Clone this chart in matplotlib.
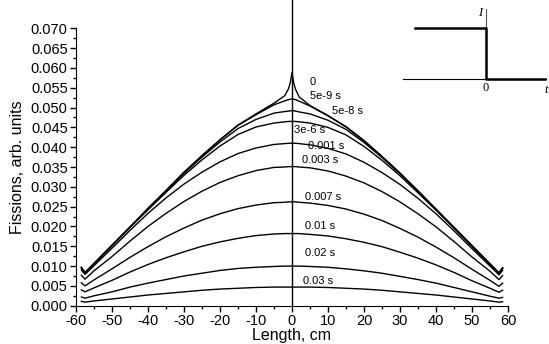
import matplotlib
matplotlib.use('Agg')
import matplotlib.pyplot as plt
from matplotlib.ticker import MultipleLocator

plt.rcParams['font.family'] = ['Liberation Sans', 'DejaVu Sans']
plt.rcParams['axes.unicode_minus'] = False

# positions along the rod, cm
length = [-58.5, -57.5, -55, -50, -45, -40, -35, -30, -25, -20, -15, -10, -5, -2, -1, -0.5, 0,
          0.5, 1, 2, 5, 10, 15, 20, 25, 30, 35, 40, 45, 50, 55, 57.5, 58.5]

# fission profiles, one per time
fis_0 = [0.0097, 0.0084, 0.0107, 0.0153, 0.0199, 0.0246, 0.0291, 0.0337, 0.0379, 0.0419, 0.0456, 0.0484, 0.0511, 0.0530, 0.0547, 0.0562, 0.0588,
         0.0561, 0.0546, 0.0527, 0.0505, 0.0480, 0.0452, 0.0417, 0.0377, 0.0335, 0.0290, 0.0244, 0.0198, 0.0152, 0.0106, 0.0083, 0.0096]
fis_5e9 = [0.0096, 0.0083, 0.0106, 0.0152, 0.0198, 0.0245, 0.0290, 0.0336, 0.0378, 0.0418, 0.0455, 0.0482, 0.0507, 0.0517, 0.0520, 0.0521, 0.0522,
           0.0521, 0.0520, 0.0516, 0.0504, 0.0479, 0.0451, 0.0416, 0.0376, 0.0334, 0.0289, 0.0243, 0.0197, 0.0151, 0.0105, 0.0082, 0.0095]
fis_5e8 = [0.0096, 0.0083, 0.0106, 0.0152, 0.0198, 0.0244, 0.0289, 0.0334, 0.0375, 0.0413, 0.0447, 0.0470, 0.0486, 0.0490, 0.0491, 0.0492, 0.0492,
           0.0492, 0.0491, 0.0489, 0.0484, 0.0468, 0.0445, 0.0412, 0.0374, 0.0333, 0.0288, 0.0243, 0.0197, 0.0151, 0.0105, 0.0082, 0.0095]
fis_3e6 = [0.0095, 0.0082, 0.0105, 0.0151, 0.0197, 0.0242, 0.0286, 0.0329, 0.0368, 0.0403, 0.0432, 0.0451, 0.0461, 0.0464, 0.0465, 0.0465, 0.0465,
           0.0465, 0.0465, 0.0464, 0.0461, 0.0450, 0.0431, 0.0402, 0.0367, 0.0328, 0.0285, 0.0241, 0.0196, 0.0150, 0.0104, 0.0081, 0.0094]
fis_1e3 = [0.0090, 0.0079, 0.0101, 0.0145, 0.0190, 0.0233, 0.0272, 0.0307, 0.0337, 0.0363, 0.0384, 0.0398, 0.0407, 0.0409, 0.0410, 0.0410, 0.0410,
           0.0410, 0.0410, 0.0409, 0.0406, 0.0397, 0.0383, 0.0362, 0.0336, 0.0306, 0.0271, 0.0232, 0.0189, 0.0144, 0.0100, 0.0078, 0.0089]
fis_3e3 = [0.0077, 0.0067, 0.0088, 0.0124, 0.0163, 0.0200, 0.0233, 0.0263, 0.0289, 0.0311, 0.0328, 0.0341, 0.0349, 0.0350, 0.0351, 0.0351, 0.0351,
           0.0351, 0.0351, 0.0350, 0.0348, 0.0340, 0.0327, 0.0310, 0.0288, 0.0262, 0.0232, 0.0199, 0.0162, 0.0123, 0.0087, 0.0066, 0.0076]
fis_7e3 = [0.0058, 0.0050, 0.0065, 0.0093, 0.0122, 0.0149, 0.0174, 0.0196, 0.0216, 0.0232, 0.0245, 0.0254, 0.0260, 0.0261, 0.0262, 0.0262, 0.0262,
           0.0262, 0.0262, 0.0261, 0.0259, 0.0253, 0.0244, 0.0231, 0.0215, 0.0195, 0.0173, 0.0148, 0.0121, 0.0092, 0.0064, 0.0049, 0.0057]
fis_1e2 = [0.0040, 0.0035, 0.0045, 0.0064, 0.0085, 0.0104, 0.0121, 0.0136, 0.0150, 0.0161, 0.0170, 0.0177, 0.0181, 0.0182, 0.0182, 0.0182, 0.0182,
           0.0182, 0.0182, 0.0182, 0.0180, 0.0176, 0.0169, 0.0160, 0.0149, 0.0135, 0.0120, 0.0103, 0.0084, 0.0063, 0.0044, 0.0034, 0.0039]
fis_2e2 = [0.0022, 0.0019, 0.0025, 0.0035, 0.0047, 0.0057, 0.0066, 0.0075, 0.0082, 0.0089, 0.0094, 0.0097, 0.0099, 0.0100, 0.0100, 0.0100, 0.0100,
           0.0100, 0.0100, 0.0100, 0.0099, 0.0097, 0.0093, 0.0088, 0.0082, 0.0074, 0.0066, 0.0057, 0.0046, 0.0035, 0.0024, 0.0019, 0.0021]
fis_3e2 = [0.0011, 0.0009, 0.0012, 0.0017, 0.0022, 0.0027, 0.0031, 0.0035, 0.0039, 0.0042, 0.0044, 0.0046, 0.0047, 0.0047, 0.0047, 0.0047, 0.0047,
           0.0047, 0.0047, 0.0047, 0.0047, 0.0046, 0.0044, 0.0042, 0.0039, 0.0035, 0.0031, 0.0027, 0.0022, 0.0017, 0.0012, 0.0009, 0.0010]

curves = [fis_0, fis_5e9, fis_5e8, fis_3e6, fis_1e3, fis_3e3, fis_7e3, fis_1e2, fis_2e2, fis_3e2]
labels = ['0', '5e-9 s', '5e-8 s', '3e-6 s', '0.001 s', '0.003 s', '0.007 s', '0.01 s', '0.02 s', '0.03 s']
label_x = [5.0, 5.0, 11.2, 0.6, 4.5, 2.9, 3.6, 3.6, 3.6, 3.1]
label_y = [0.0565, 0.0529, 0.0492, 0.0443, 0.0403, 0.0368, 0.0274, 0.0202, 0.0132, 0.0062]

# inset: current step
step_t = [-1, 0, 0, 0.83]
step_i = [1, 1, 0, 0]

fig = plt.figure(figsize=(5.49, 3.44), dpi=100)
ax = fig.add_axes([0.1384, 0.1113, 0.7869, 0.8064])

for c in curves:
    ax.plot(length, c, color='black', lw=1.0)

for lab, lx, ly in zip(labels, label_x, label_y):
    ax.text(lx, ly, lab, fontsize=8, ha='left', va='center')

ax.axvline(0, ymin=0, ymax=1.11, color='black', lw=1.0, clip_on=False)

ax.set_xlim(-60, 60)
ax.set_ylim(0, 0.070)
ax.xaxis.set_major_locator(MultipleLocator(10))
ax.xaxis.set_minor_locator(MultipleLocator(5))
ax.yaxis.set_major_locator(MultipleLocator(0.005))
ax.yaxis.set_minor_locator(MultipleLocator(0.0025))
ax.yaxis.set_major_formatter(matplotlib.ticker.FormatStrFormatter('%.3f'))
ax.tick_params(which='major', direction='out', length=4, width=1, labelsize=10.5, pad=2)
ax.tick_params(which='minor', direction='out', length=2, width=1)
ax.spines['top'].set_visible(False)
ax.spines['right'].set_visible(False)
ax.set_xlabel('Length, cm', fontsize=11.5, labelpad=0)
ax.set_ylabel('Fissions, arb. units', fontsize=11.5, labelpad=4)

# the little step-function sketch in the corner
ins = fig.add_axes([400 / 549, 1 - 100 / 344, 149 / 549, 100 / 344])
ins.set_xlim(-1.211, 0.887)
ins.set_ylim(-0.409, 1.54)
ins.axis('off')
ins.plot([-1.17, 0.85], [0, 0], color='black', lw=0.8)
ins.plot([0, 0], [0, 1.36], color='#555555', lw=0.8)
ins.plot(step_t, step_i, color='black', lw=1.8)
ins.text(-0.06, 1.28, 'I', family='Liberation Serif', style='italic', fontsize=9, ha='right', va='center')
ins.text(0, -0.18, '0', family='Liberation Serif', fontsize=9, ha='center', va='center')
ins.text(0.83, -0.22, 't', family='Liberation Serif', style='italic', fontsize=9, ha='left', va='center', clip_on=False)

fig.savefig('out.png', dpi=100)
